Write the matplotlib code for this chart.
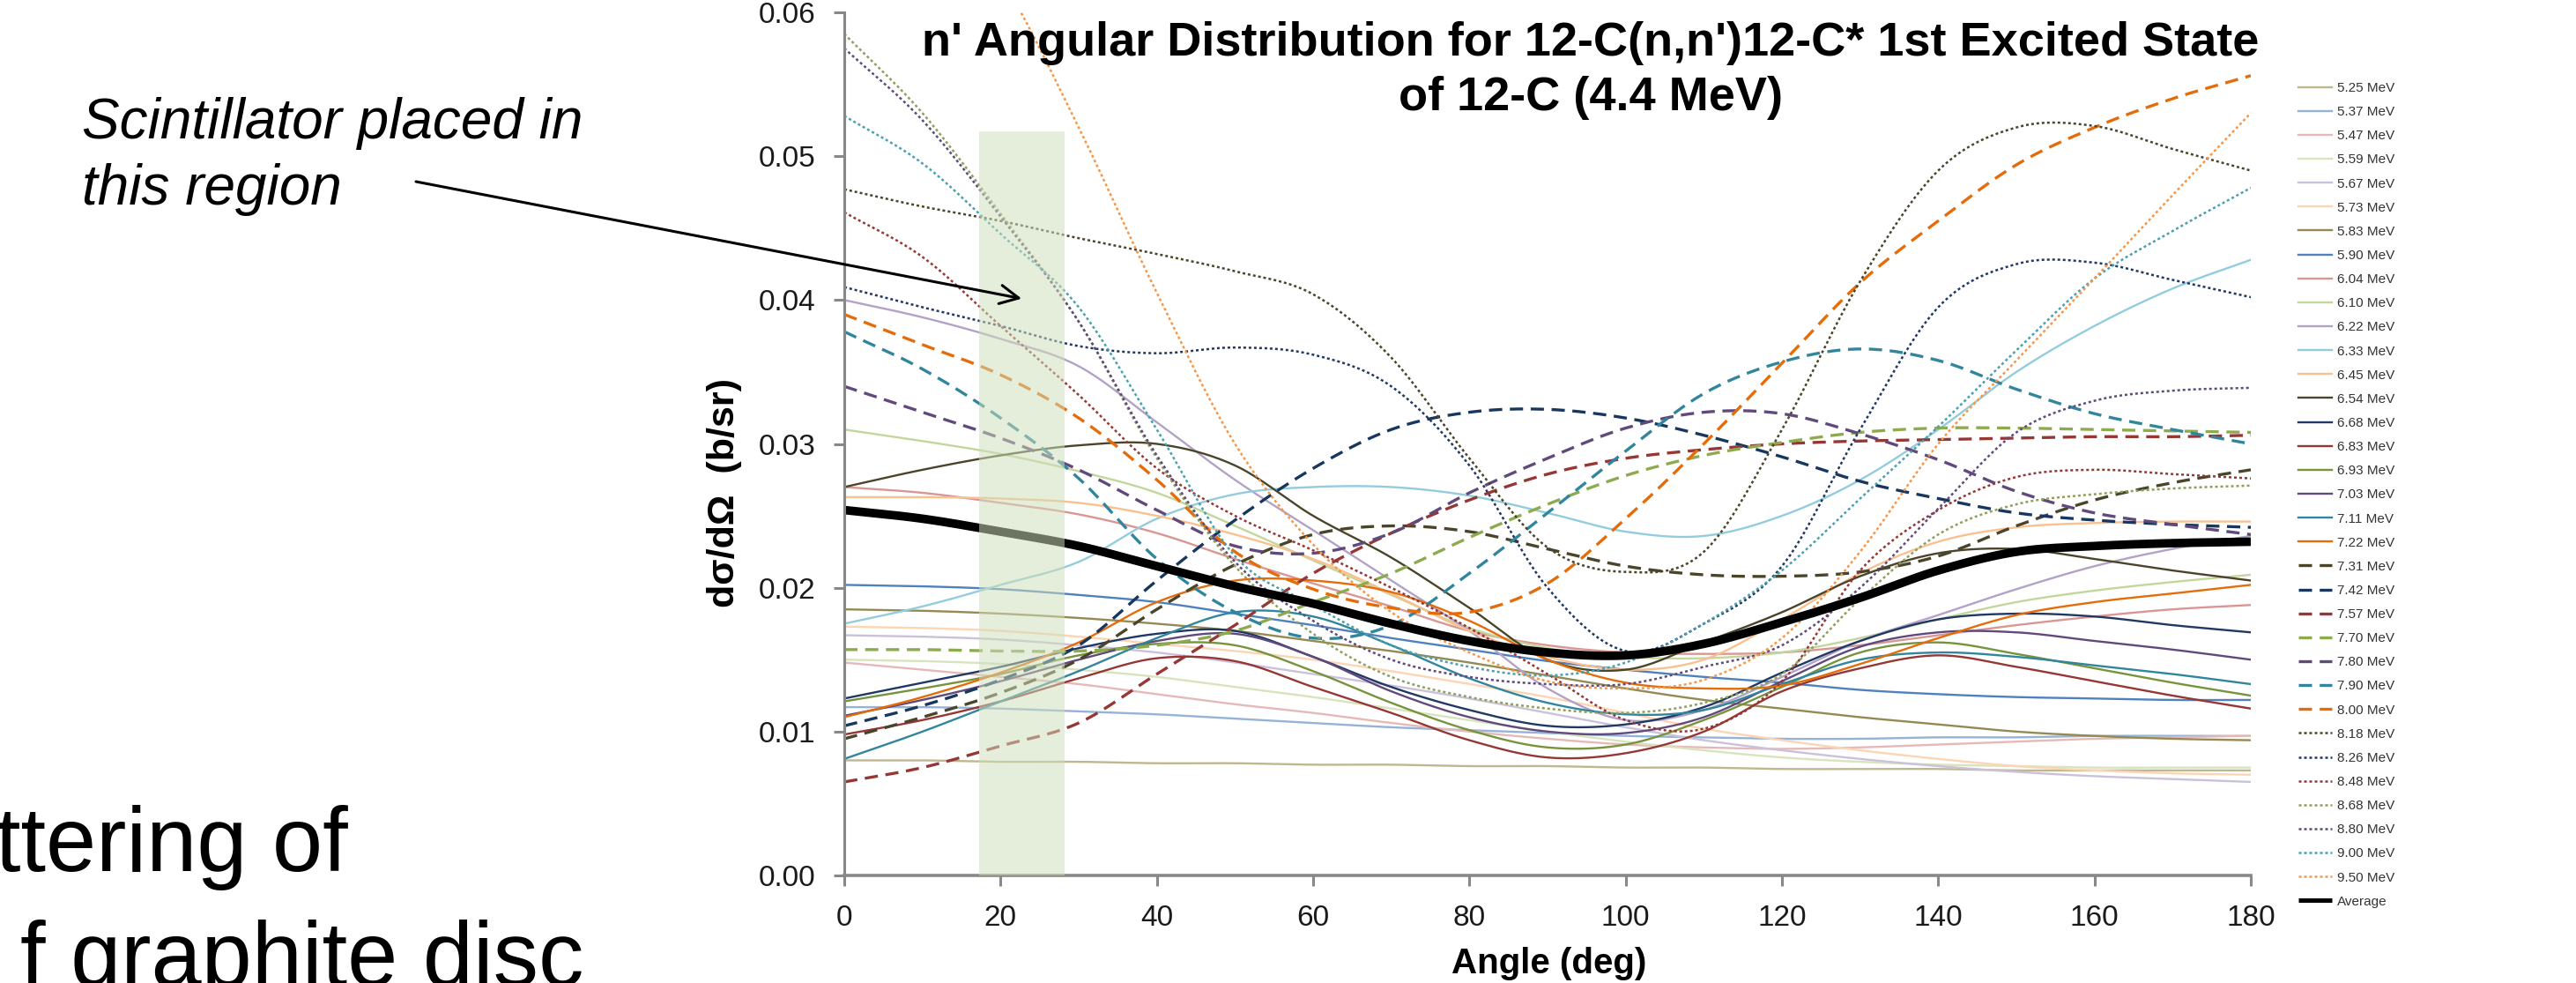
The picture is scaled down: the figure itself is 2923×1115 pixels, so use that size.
import numpy as np
import matplotlib
matplotlib.use("Agg")
import matplotlib.pyplot as plt
from matplotlib.patches import Rectangle
from matplotlib.ticker import FormatStrFormatter

plt.rcParams['font.family'] = ['Liberation Sans', 'DejaVu Sans']

W, H = 2923, 1115

angles = list(range(0, 181, 10))

e525 = [0.0080, 0.0080, 0.0079, 0.0079, 0.0078, 0.0078, 0.0077, 0.0077, 0.0076, 0.0076, 0.0075, 0.0075, 0.0074, 0.0074, 0.0074, 0.0073, 0.0073, 0.0073, 0.0073]
e537 = [0.0117, 0.0117, 0.0116, 0.0114, 0.0112, 0.0109, 0.0106, 0.0103, 0.0101, 0.0099, 0.0097, 0.0096, 0.0095, 0.0095, 0.0096, 0.0096, 0.0097, 0.0097, 0.0097]
e547 = [0.0148, 0.0143, 0.0138, 0.0133, 0.0126, 0.0119, 0.0113, 0.0106, 0.0100, 0.0095, 0.0091, 0.0089, 0.0088, 0.0089, 0.0091, 0.0093, 0.0095, 0.0096, 0.0097]
e559 = [0.0150, 0.0149, 0.0147, 0.0143, 0.0138, 0.0131, 0.0124, 0.0116, 0.0108, 0.0100, 0.0093, 0.0087, 0.0082, 0.0079, 0.0077, 0.0076, 0.0075, 0.0075, 0.0075]
e567 = [0.0167, 0.0166, 0.0164, 0.0160, 0.0155, 0.0148, 0.0140, 0.0132, 0.0123, 0.0113, 0.0103, 0.0094, 0.0087, 0.0081, 0.0076, 0.0072, 0.0069, 0.0067, 0.0065]
e573 = [0.0173, 0.0172, 0.0170, 0.0166, 0.0161, 0.0156, 0.0150, 0.0142, 0.0133, 0.0124, 0.0113, 0.0102, 0.0094, 0.0087, 0.0081, 0.0076, 0.0073, 0.0071, 0.0070]
e583 = [0.0185, 0.0184, 0.0182, 0.0179, 0.0175, 0.0170, 0.0163, 0.0156, 0.0148, 0.0139, 0.0130, 0.0122, 0.0116, 0.0110, 0.0105, 0.0100, 0.0097, 0.0095, 0.0094]
e590 = [0.0202, 0.0201, 0.0199, 0.0195, 0.0190, 0.0182, 0.0174, 0.0165, 0.0157, 0.0149, 0.0143, 0.0138, 0.0134, 0.0129, 0.0126, 0.0124, 0.0123, 0.0122, 0.0122]
e604 = [0.0270, 0.0266, 0.0259, 0.0251, 0.0238, 0.0220, 0.0203, 0.0187, 0.0170, 0.0160, 0.0155, 0.0154, 0.0155, 0.0160, 0.0167, 0.0174, 0.0180, 0.0185, 0.0188]
e610 = [0.0310, 0.0302, 0.0293, 0.0281, 0.0266, 0.0243, 0.0219, 0.0195, 0.0172, 0.0158, 0.0152, 0.0151, 0.0155, 0.0165, 0.0178, 0.0190, 0.0198, 0.0204, 0.0209]
e622 = [0.0400, 0.0388, 0.0373, 0.0354, 0.0315, 0.0275, 0.0240, 0.0205, 0.0170, 0.0130, 0.0108, 0.0115, 0.0138, 0.0163, 0.0181, 0.0199, 0.0215, 0.0227, 0.0236]
e633 = [0.0175, 0.0187, 0.0202, 0.0218, 0.0248, 0.0265, 0.0270, 0.0270, 0.0264, 0.0252, 0.0239, 0.0236, 0.0250, 0.0275, 0.0310, 0.0350, 0.0382, 0.0408, 0.0428]
e645 = [0.0263, 0.0263, 0.0262, 0.0259, 0.0250, 0.0237, 0.0220, 0.0196, 0.0170, 0.0152, 0.0143, 0.0150, 0.0178, 0.0210, 0.0232, 0.0242, 0.0245, 0.0246, 0.0246]
e654 = [0.0270, 0.0282, 0.0292, 0.0299, 0.0300, 0.0285, 0.0250, 0.0221, 0.0186, 0.0150, 0.0143, 0.0162, 0.0183, 0.0208, 0.0224, 0.0227, 0.0220, 0.0212, 0.0205]
e668 = [0.0123, 0.0134, 0.0145, 0.0158, 0.0168, 0.0170, 0.0152, 0.0131, 0.0115, 0.0104, 0.0105, 0.0117, 0.0141, 0.0163, 0.0178, 0.0182, 0.0180, 0.0174, 0.0169]
e683 = [0.0098, 0.0108, 0.0121, 0.0137, 0.0151, 0.0149, 0.0131, 0.0113, 0.0094, 0.0082, 0.0085, 0.0100, 0.0128, 0.0144, 0.0153, 0.0145, 0.0135, 0.0125, 0.0116]
e693 = [0.0121, 0.0130, 0.0140, 0.0153, 0.0161, 0.0160, 0.0142, 0.0120, 0.0101, 0.0089, 0.0091, 0.0108, 0.0131, 0.0155, 0.0162, 0.0154, 0.0144, 0.0134, 0.0125]
e703 = [0.0111, 0.0122, 0.0135, 0.0150, 0.0163, 0.0168, 0.0152, 0.0128, 0.0110, 0.0100, 0.0099, 0.0110, 0.0135, 0.0159, 0.0169, 0.0169, 0.0163, 0.0157, 0.0150]
e711 = [0.0081, 0.0100, 0.0121, 0.0142, 0.0165, 0.0183, 0.0180, 0.0160, 0.0137, 0.0120, 0.0112, 0.0115, 0.0133, 0.0150, 0.0155, 0.0152, 0.0146, 0.0140, 0.0133]
e722 = [0.0110, 0.0124, 0.0141, 0.0162, 0.0190, 0.0205, 0.0205, 0.0197, 0.0177, 0.0150, 0.0134, 0.0130, 0.0132, 0.0147, 0.0165, 0.0181, 0.0190, 0.0196, 0.0202]
e731 = [0.0095, 0.0110, 0.0127, 0.0150, 0.0185, 0.0216, 0.0237, 0.0243, 0.0239, 0.0227, 0.0215, 0.0209, 0.0208, 0.0211, 0.0222, 0.0243, 0.0261, 0.0273, 0.0282]
e742 = [0.0104, 0.0118, 0.0136, 0.0160, 0.0205, 0.0247, 0.0283, 0.0310, 0.0322, 0.0324, 0.0318, 0.0306, 0.0291, 0.0274, 0.0262, 0.0252, 0.0247, 0.0244, 0.0242]
e757 = [0.0065, 0.0075, 0.0090, 0.0106, 0.0140, 0.0174, 0.0210, 0.0238, 0.0261, 0.0279, 0.0290, 0.0296, 0.0300, 0.0302, 0.0303, 0.0304, 0.0305, 0.0305, 0.0306]
e770 = [0.0157, 0.0157, 0.0156, 0.0156, 0.0160, 0.0170, 0.0190, 0.0210, 0.0235, 0.0258, 0.0278, 0.0292, 0.0301, 0.0308, 0.0311, 0.0311, 0.0310, 0.0309, 0.0308]
e780 = [0.0340, 0.0322, 0.0304, 0.0282, 0.0254, 0.0229, 0.0224, 0.0238, 0.0266, 0.0290, 0.0311, 0.0322, 0.0321, 0.0307, 0.0289, 0.0267, 0.0252, 0.0244, 0.0237]
e790 = [0.0378, 0.0352, 0.0318, 0.0276, 0.0220, 0.0183, 0.0165, 0.0174, 0.0210, 0.0252, 0.0295, 0.0335, 0.0357, 0.0366, 0.0358, 0.0338, 0.0321, 0.0310, 0.0300]
e800 = [0.0390, 0.0369, 0.0348, 0.0318, 0.0275, 0.0225, 0.0199, 0.0186, 0.0183, 0.0203, 0.0248, 0.0300, 0.0356, 0.0412, 0.0455, 0.0494, 0.0520, 0.0540, 0.0556]
e818 = [0.0477, 0.0465, 0.0455, 0.0443, 0.0432, 0.0420, 0.0404, 0.0360, 0.0290, 0.0228, 0.0211, 0.0225, 0.0310, 0.0413, 0.0490, 0.0520, 0.0521, 0.0505, 0.0490]
e826 = [0.0409, 0.0395, 0.0382, 0.0368, 0.0363, 0.0367, 0.0362, 0.0340, 0.0285, 0.0200, 0.0156, 0.0175, 0.0215, 0.0310, 0.0395, 0.0425, 0.0426, 0.0414, 0.0402]
e848 = [0.0461, 0.0430, 0.0382, 0.0334, 0.0283, 0.0250, 0.0226, 0.0200, 0.0172, 0.0140, 0.0108, 0.0102, 0.0135, 0.0212, 0.0254, 0.0277, 0.0282, 0.0279, 0.0276]
e868 = [0.0585, 0.0530, 0.0460, 0.0385, 0.0290, 0.0215, 0.0168, 0.0138, 0.0124, 0.0116, 0.0113, 0.0120, 0.0140, 0.0192, 0.0237, 0.0258, 0.0265, 0.0269, 0.0271]
e880 = [0.0575, 0.0525, 0.0458, 0.0385, 0.0292, 0.0218, 0.0177, 0.0150, 0.0138, 0.0133, 0.0133, 0.0145, 0.0160, 0.0200, 0.0255, 0.0308, 0.0330, 0.0337, 0.0339]
e900 = [0.0528, 0.0495, 0.0446, 0.0395, 0.0310, 0.0222, 0.0188, 0.0160, 0.0145, 0.0139, 0.0148, 0.0175, 0.0212, 0.0262, 0.0312, 0.0365, 0.0415, 0.0448, 0.0478]
e950 = [0.0780, 0.0700, 0.0625, 0.0520, 0.0405, 0.0300, 0.0230, 0.0183, 0.0155, 0.0135, 0.0130, 0.0136, 0.0165, 0.0225, 0.0300, 0.0358, 0.0415, 0.0473, 0.0530]
average = [0.0254, 0.0248, 0.0239, 0.0229, 0.0215, 0.0201, 0.0189, 0.0175, 0.0163, 0.0155, 0.0153, 0.0161, 0.0176, 0.0193, 0.0212, 0.0225, 0.0229, 0.0231, 0.0232]

series = [e525, e537, e547, e559, e567, e573, e583, e590, e604, e610, e622, e633,
          e645, e654, e668, e683, e693, e703, e711, e722,
          e731, e742, e757, e770, e780, e790, e800,
          e818, e826, e848, e868, e880, e900, e950]
energies = ["5.25", "5.37", "5.47", "5.59", "5.67", "5.73", "5.83", "5.90", "6.04", "6.10",
            "6.22", "6.33", "6.45", "6.54", "6.68", "6.83", "6.93", "7.03", "7.11", "7.22",
            "7.31", "7.42", "7.57", "7.70", "7.80", "7.90", "8.00",
            "8.18", "8.26", "8.48", "8.68", "8.80", "9.00", "9.50"]
colors = ["#BDB88F", "#95B3D7", "#E6B9B8", "#D7E4BD", "#CCC1DA", "#FCD5B5", "#948A54", "#4F81BD",
          "#D99694", "#C3D69B", "#B3A2C7", "#93CDDD", "#FAC090", "#4A452A", "#1F3864", "#953735",
          "#77933C", "#604A7B", "#31859C", "#E46C0A",
          "#4A452A", "#17375E", "#953735", "#8EAA4E", "#604A7B", "#31859C", "#E46C0A",
          "#4A452A", "#1F3864", "#953735", "#8E9F5E", "#604A7B", "#4A9FB0", "#F79646"]
styles = ["solid"] * 20 + ["dashed"] * 7 + ["dotted"] * 7


def smooth_curve(x, y, steps=20):
    # Catmull-Rom through the read points, like Excel's smoothed line
    x = np.asarray(x, float)
    y = np.asarray(y, float)
    yp = np.concatenate([[2 * y[0] - y[1]], y, [2 * y[-1] - y[-2]]])
    t = np.linspace(0, 1, steps, endpoint=False)
    xs, ys = [], []
    for i in range(len(x) - 1):
        p0, p1, p2, p3 = yp[i:i + 4]
        ys.append(0.5 * (2 * p1 + (p2 - p0) * t + (2 * p0 - 5 * p1 + 4 * p2 - p3) * t ** 2
                         + (3 * p1 - p0 - 3 * p2 + p3) * t ** 3))
        xs.append(x[i] + (x[i + 1] - x[i]) * t)
    xs.append([x[-1]])
    ys.append([y[-1]])
    return np.concatenate(xs), np.concatenate(ys)


def fx(px):
    return px / W


def fy(py):
    return 1 - py / H


fig = plt.figure(figsize=(W / 100, H / 100), dpi=100)
ax = fig.add_axes([0.32775, 0.10942, 0.54601, 0.87802])

for vals, en, col, sty in zip(series, energies, colors, styles):
    xs, ys = smooth_curve(angles, vals)
    if sty == "solid":
        ax.plot(xs, ys, color=col, lw=1.7, label=f"{en} MeV")
    elif sty == "dashed":
        ax.plot(xs, ys, color=col, lw=2.4, dashes=(4.5, 2.6), label=f"{en} MeV")
    else:
        ax.plot(xs, ys, color=col, lw=1.8, dashes=(1.2, 1.2), label=f"{en} MeV")

xs, ys = smooth_curve(angles, average)
ax.plot(xs, ys, color="black", lw=7, label="Average", solid_capstyle="butt")

# scintillator region, drawn over the curves
ax.add_patch(Rectangle((17.3, 0), 10.9, 0.0517, facecolor="#CFDDBB", alpha=0.53,
                       edgecolor="none", zorder=5))

ax.set_xlim(0, 180)
ax.set_ylim(0, 0.06)
ax.set_xticks(range(0, 181, 20))
ax.set_yticks(np.arange(0, 0.0601, 0.01))
ax.yaxis.set_major_formatter(FormatStrFormatter("%.2f"))
for s in ["top", "right"]:
    ax.spines[s].set_visible(False)
for s in ["left", "bottom"]:
    ax.spines[s].set_color("#888888")
ax.spines["left"].set_linewidth(2.2)
ax.spines["bottom"].set_linewidth(2.6)
ax.tick_params(direction="out", length=8.5, width=2.2, color="#888888",
               labelsize=24, labelcolor="#1a1a1a", pad=15)

leg = ax.legend(loc="upper left", bbox_to_anchor=(fx(2608), fy(93)), bbox_transform=fig.transFigure,
                frameon=False, fontsize=11, labelspacing=0.86, handlelength=2.5,
                handletextpad=0.35, borderpad=0, borderaxespad=0)
for t in leg.get_texts():
    t.set_color("#333333")
leg.legend_handles[-1].set_linewidth(3.6)

fig.text(fx(1805), fy(63), "n' Angular Distribution for 12-C(n,n')12-C* 1st Excited State",
         ha="center", va="baseline", fontsize=39, fontweight="bold")
fig.text(fx(1805), fy(125), "of 12-C (4.4 MeV)",
         ha="center", va="baseline", fontsize=39, fontweight="bold")
fig.text(fx(1758), fy(1093), "Angle (deg)", ha="center", va="center", fontsize=29, fontweight="bold")
fig.text(fx(822), fy(559), "d\u03c3/d\u03a9  (b/sr)", ha="center", va="center", rotation=90,
         fontsize=31, fontweight="bold")

fig.text(fx(93), fy(157), "Scintillator placed in", ha="left", va="baseline",
         fontsize=46, style="italic")
fig.text(fx(93), fy(232), "this region", ha="left", va="baseline",
         fontsize=46, style="italic")
ax.annotate("", xy=(22.7, 0.0401), xytext=(fx(472), fy(206)), textcoords="figure fraction",
            arrowprops=dict(arrowstyle="->", lw=2.2, color="black", mutation_scale=38,
                            shrinkA=0, shrinkB=0),
            annotation_clip=False, zorder=6)

fig.text(fx(395), fy(988), "ttering of", ha="right", va="baseline", fontsize=74)
fig.text(fx(662), fy(1118), "f graphite disc", ha="right", va="baseline", fontsize=74)

fig.savefig("out.png", dpi=100)
